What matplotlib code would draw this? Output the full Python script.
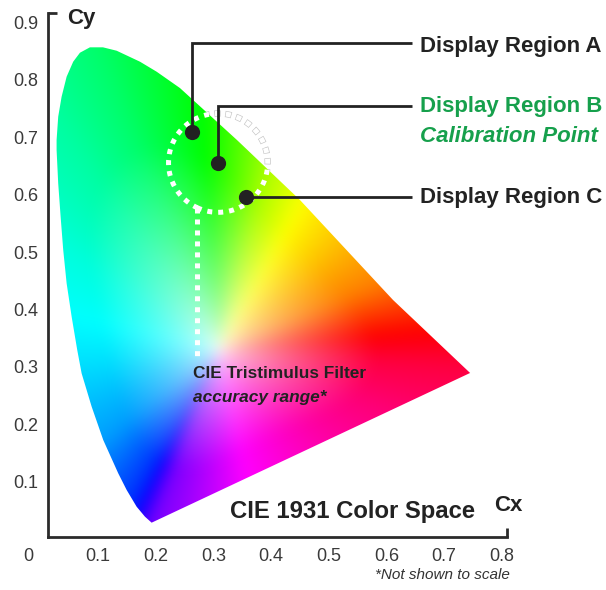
import numpy as np
import matplotlib
matplotlib.use('Agg')
import matplotlib.pyplot as plt
from matplotlib.patches import Polygon
from matplotlib.colors import hsv_to_rgb

# outline of the colour space (tip -> left edge -> top -> red corner)
locus_x = [0.1927, 0.1811, 0.1667, 0.1494, 0.1348, 0.1088, 0.0887, 0.0713, 0.0637,
           0.0540, 0.0453, 0.0394, 0.0349, 0.0307, 0.0279, 0.0279, 0.0307, 0.0366,
           0.0453, 0.0567, 0.0684, 0.0857, 0.1083, 0.1320, 0.1725, 0.2014, 0.2418,
           0.3407, 0.4500, 0.6114, 0.7450]
locus_y = [0.0292, 0.0397, 0.0570, 0.0861, 0.1151, 0.1730, 0.2310, 0.2890, 0.3296,
           0.3875, 0.4456, 0.5035, 0.5614, 0.6195, 0.6774, 0.6948, 0.7353, 0.7701,
           0.8049, 0.8310, 0.8466, 0.8560, 0.8560, 0.8501, 0.8310, 0.8136, 0.7852,
           0.6948, 0.5904, 0.4165, 0.2896]

# hue seen in the fill, by direction (deg) from the white point
white_xy = (0.31, 0.33)
dir_deg = [-4, 22.6, 47, 58.7, 75, 94, 112, 125, 147, 185, 218, 231, 241, 249, 282, 340, 356]
hue_deg = [-15, 30, 49, 58, 80, 120, 145, 158, 172, 187, 203, 218, 230, 268, 300, 332, 345]

region_names = ['Display Region A', 'Display Region B', 'Display Region C']
region_x = [0.263, 0.308, 0.356]
region_y = [0.709, 0.655, 0.596]

x_ticks = [0.1, 0.2, 0.3, 0.4, 0.5, 0.6, 0.7, 0.8]
y_ticks = [0.1, 0.2, 0.3, 0.4, 0.5, 0.6, 0.7, 0.8, 0.9]

GREEN = '#16a04c'
DARK = '#222222'
plt.rcParams['font.family'] = ['Liberation Sans', 'DejaVu Sans']
plt.rcParams['lines.scale_dashes'] = False


def gauss(sigma):
    n = int(3 * sigma)
    k = np.exp(-0.5 * (np.arange(-n, n + 1) / sigma) ** 2)
    return k / k.sum(), n


def blur(img, sigma):
    k, n = gauss(sigma)
    out = np.pad(img, ((n, n), (n, n), (0, 0)), mode='edge')
    out = np.apply_along_axis(lambda v: np.convolve(v, k, mode='same'), 0, out)
    out = np.apply_along_axis(lambda v: np.convolve(v, k, mode='same'), 1, out)
    return out[n:-n, n:-n]


def fill_colours(gx, gy):
    # distance from the white point to the outline, per direction, smoothed
    px = locus_x + [locus_x[0]]
    py = locus_y + [locus_y[0]]
    bx = np.concatenate([np.linspace(px[i], px[i + 1], 60) for i in range(len(px) - 1)])
    by = np.concatenate([np.linspace(py[i], py[i + 1], 60) for i in range(len(py) - 1)])
    bx = bx - white_xy[0]
    by = by - white_xy[1]
    b_ang = np.degrees(np.arctan2(by, bx))
    order = np.argsort(b_ang)
    a = np.arange(-180, 180)
    rad = np.interp(a, b_ang[order], np.hypot(bx, by)[order], period=360)
    k, n = gauss(15)
    rad = np.convolve(np.concatenate([rad[-n:], rad, rad[:n]]), k, mode='same')[n:-n]

    dx = gx - white_xy[0]
    dy = gy - white_xy[1]
    ang = np.degrees(np.arctan2(dy, dx))
    edge = np.interp(ang, a, rad, period=360)
    sat = np.clip(1.3 * np.hypot(dx, dy) / edge, 0, 1) ** 0.6
    phi = (ang + 4) % 360 - 4
    hue = (np.interp(phi, dir_deg, hue_deg) % 360) / 360
    rgb = hsv_to_rgb(np.stack([hue, sat, np.ones_like(sat)], axis=-1))
    return np.clip(blur(rgb, 7), 0, 1)


fig = plt.figure(figsize=(6.06, 5.90), dpi=100)
W, H = 606, 590
ax = fig.add_axes([48 / W, (H - 537) / H, (507 - 48) / W, (537 - 13) / H])
xlim = (0.013, 0.809)
ylim = (0.0043, 0.9157)
ax.set_xlim(xlim)
ax.set_ylim(ylim)

# colour fill clipped to the outline
gx, gy = np.meshgrid(np.linspace(xlim[0], xlim[1], 500), np.linspace(ylim[0], ylim[1], 500))
im = ax.imshow(fill_colours(gx, gy), extent=(xlim[0], xlim[1], ylim[0], ylim[1]),
               origin='lower', aspect='auto', interpolation='bilinear', zorder=2)
outline = Polygon(np.column_stack([locus_x, locus_y]), closed=True, transform=ax.transData)
im.set_clip_path(outline)

# dotted accuracy circle around the calibration point
r = 0.086
start = np.arccos((0.2713 - region_x[1]) / r)
theta = np.linspace(-start, -start + 2 * np.pi, 500)
cx = region_x[1] + r * np.cos(theta)
cy = region_y[1] + r * np.sin(theta)
ax.plot(cx, cy, color='#c4c4c4', lw=4.5, linestyle=(0.45, (4.5, 3.4)),
        dash_capstyle='butt', zorder=1.5, clip_on=False)
ax.plot(cx, cy, color='white', lw=3.6, linestyle=(0, (3.6, 4.3)),
        dash_capstyle='butt', zorder=3, clip_on=False)
ax.plot([0.2713, 0.2713], [cy[0], 0.317], color='white', lw=3.6,
        linestyle=(0, (3.6, 4.3)), dash_capstyle='butt', zorder=3)

# leader lines and labels
x_end = 0.6443
x_txt = 0.6583
ax.plot([region_x[0], region_x[0], x_end], [region_y[0], 0.863, 0.863], color=DARK,
        lw=2, solid_joinstyle='miter', solid_capstyle='butt', zorder=4, clip_on=False)
ax.plot([region_x[1], region_x[1], x_end], [region_y[1], 0.754, 0.754], color=DARK,
        lw=2, solid_joinstyle='miter', solid_capstyle='butt', zorder=4, clip_on=False)
ax.plot([region_x[2], x_end], [region_y[2], region_y[2]], color=DARK,
        lw=2, solid_capstyle='butt', zorder=4, clip_on=False)
ax.scatter(region_x, region_y, s=120, color=DARK, zorder=5, clip_on=False, linewidths=0)

ax.text(x_txt, 0.8483, region_names[0], fontsize=16, fontweight='bold', color=DARK,
        va='baseline', ha='left', clip_on=False)
ax.text(x_txt, 0.7440, region_names[1], fontsize=16, fontweight='bold', color=GREEN,
        va='baseline', ha='left', clip_on=False)
ax.text(x_txt, 0.6918, 'Calibration Point', fontsize=16, fontweight='bold',
        fontstyle='italic', color=GREEN, va='baseline', ha='left', clip_on=False)
ax.text(x_txt, 0.5852, region_names[2], fontsize=16, fontweight='bold', color=DARK,
        va='baseline', ha='left', clip_on=False)

ax.text(0.2644, 0.2809, 'CIE Tristimulus Filter', fontsize=12.4, fontweight='bold',
        color=DARK, va='baseline', zorder=6)
ax.text(0.2644, 0.2391, 'accuracy range*', fontsize=12.4, fontweight='bold',
        fontstyle='italic', color=DARK, va='baseline', zorder=6)

ax.text(0.7536, 0.0374, 'CIE 1931 Color Space', fontsize=17.2, fontweight='bold',
        color=DARK, ha='right', va='baseline')
ax.text(0.0458, 0.8965, 'Cy', fontsize=16, fontweight='bold', color=DARK,
        ha='left', va='baseline', clip_on=False)
ax.text(0.8109, 0.0496, 'Cx', fontsize=16, fontweight='bold', color=DARK,
        ha='center', va='baseline', clip_on=False)
ax.text(0.6964, -0.0617, '*Not shown to scale', fontsize=11, fontstyle='italic',
        color='#333333', ha='center', va='center', clip_on=False)
ax.text(-0.0219, -0.0304, '0', fontsize=13, color='#3a3a3a', ha='center', va='center',
        clip_on=False)

# axes
for side in ['top', 'right']:
    ax.spines[side].set_visible(False)
for side in ['left', 'bottom']:
    ax.spines[side].set_color('#2b2b2b')
    ax.spines[side].set_linewidth(2)
ax.set_xticks(x_ticks)
ax.set_xticklabels(['%.1f' % v for v in x_ticks])
ax.set_yticks(y_ticks)
ax.set_yticklabels(['%.1f' % v for v in y_ticks])
ax.tick_params(which='major', length=0, labelsize=13, labelcolor='#3a3a3a')
ax.tick_params(axis='y', which='major', pad=7)
ax.tick_params(axis='x', which='major', pad=8)
ax.set_yticks([ylim[1]], minor=True)
ax.set_xticks([xlim[1]], minor=True)
ax.tick_params(which='minor', direction='in', length=6.5, width=2, color='#2b2b2b',
               labelbottom=False, labelleft=False)
ax.set_facecolor('white')

fig.savefig('out.png', dpi=100)
